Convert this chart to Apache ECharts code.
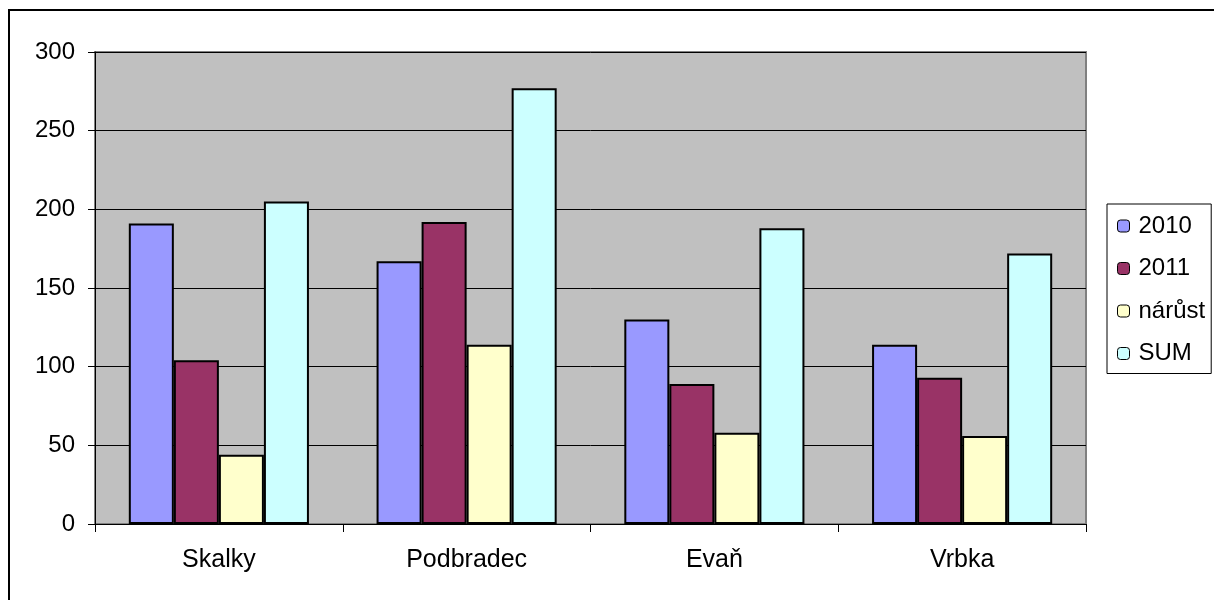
<!DOCTYPE html>
<html>
<head>
<meta charset="utf-8">
<script src="https://cdn.jsdelivr.net/npm/echarts@6/dist/echarts.min.js"></script>
<style>
  html, body { margin: 0; padding: 0; background: #fff; }
  #chart { width: 1214px; height: 600px; }
</style>
</head>
<body>
<div id="chart"></div>
<script>
// Categories (villages) and yearly values
const categories = ['Skalky', 'Podbradec', 'Evaň', 'Vrbka'];
const values2010 = [191, 167, 130, 114];
const values2011 = [104, 192, 89, 93];
const valuesGrowth = [44, 114, 58, 56];
const valuesSum = [205, 277, 188, 172];
const seriesNames = ['2010', '2011', 'nárůst', 'SUM'];
const seriesColors = ['#9999FF', '#993366', '#FFFFCC', '#CCFFFF'];
const yTicks = [0, 50, 100, 150, 200, 250, 300];

const font = 'Liberation Sans, Arial, sans-serif';
const seriesData = [values2010, values2011, valuesGrowth, valuesSum];

const chart = echarts.init(document.getElementById('chart'));
chart.setOption({
  animation: false,
  backgroundColor: '#ffffff',
  graphic: [{
    type: 'rect',
    shape: { x: 9, y: 10, width: 1400, height: 800 },
    style: { fill: 'none', stroke: '#000', lineWidth: 2 },
    silent: true,
    z: 100
  }],
  grid: {
    left: 95, top: 52, right: 128, bottom: 76,
    show: true,
    backgroundColor: '#C0C0C0',
    borderColor: '#808080',
    borderWidth: 2
  },
  legend: {
    orient: 'vertical',
    left: 1107, top: 204,
    data: seriesNames,
    itemWidth: 12, itemHeight: 12,
    itemGap: 18.5,
    padding: [10, 6, 8, 10],
    borderColor: '#000', borderWidth: 1,
    backgroundColor: '#fff',
    textStyle: { fontFamily: font, fontSize: 24, color: '#000', padding: [0, 0, 0, 4] },
    itemStyle: { borderColor: '#000', borderWidth: 1 }
  },
  xAxis: {
    type: 'category',
    data: categories,
    axisLine: { lineStyle: { color: '#000', width: 1 } },
    axisTick: { show: true, alignWithLabel: false, length: 8, lineStyle: { color: '#000' } },
    axisLabel: { fontFamily: font, fontSize: 25, color: '#000', margin: 24 }
  },
  yAxis: {
    type: 'value',
    min: yTicks[0], max: yTicks[yTicks.length - 1], interval: 50,
    axisLine: { show: true, lineStyle: { color: '#000', width: 1 } },
    axisTick: { show: true, length: 7, lineStyle: { color: '#000' } },
    splitLine: { show: true, lineStyle: { color: '#000', width: 1 } },
    axisLabel: { fontFamily: font, fontSize: 24, color: '#000', margin: 20 }
  },
  series: seriesNames.map((name, i) => ({
    name: name,
    type: 'bar',
    data: seriesData[i],
    barGap: '0%',
    barCategoryGap: '27.3%',
    itemStyle: { color: seriesColors[i], borderColor: '#000', borderWidth: 2 }
  }))
});
</script>
</body>
</html>
